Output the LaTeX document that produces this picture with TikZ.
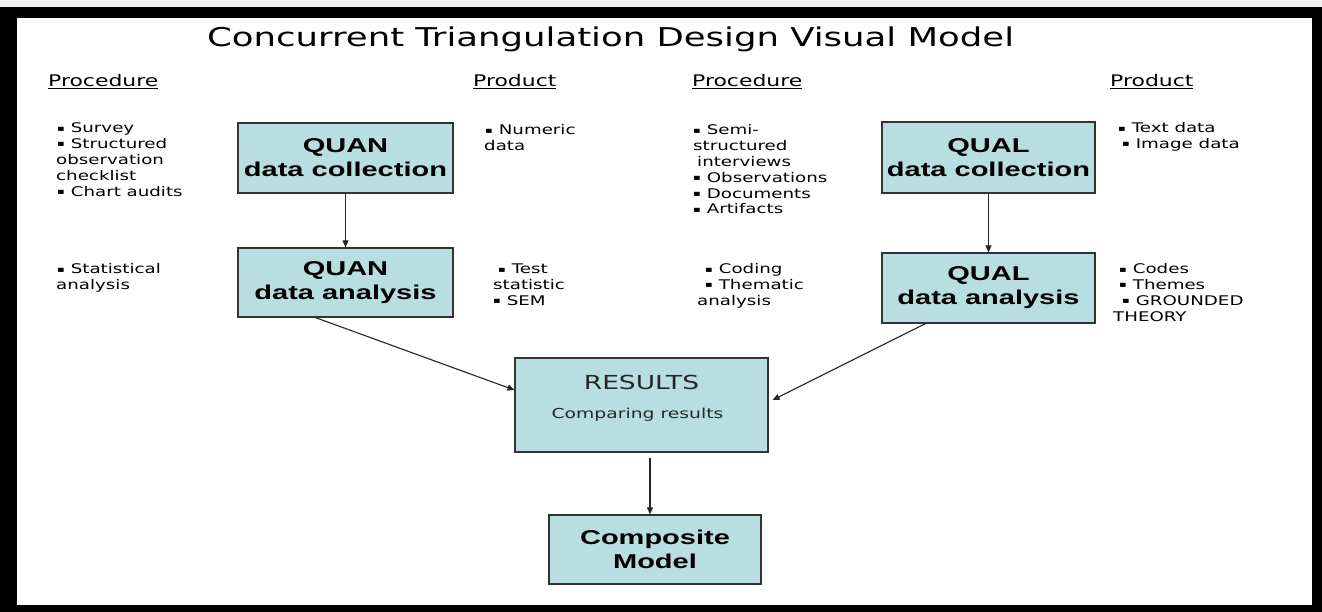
\documentclass[tikz,border=0pt]{standalone}
\usepackage{fontspec}
\usepackage{graphicx}
\usetikzlibrary{arrows.meta,calc}
\newfontfamily\rfont[FakeStretch=1.37]{DejaVu Sans}
\newfontfamily\bfont[FakeStretch=1.45]{Liberation Sans}
\definecolor{boxc}{HTML}{B9DEE2}
\newcommand\ltab[1]{\begin{tabular}[t]{@{}l@{}}#1\end{tabular}}
\newcommand\bul{\raisebox{1.8pt}{\scalebox{0.62}{▪}}\hspace{6pt}}
\begin{document}
\begin{tikzpicture}[x=1pt,y=-1pt,
  box/.style={draw=black!80, line width=1.2pt, fill=boxc, inner sep=0pt, align=center,
    font=\bfont\bfseries\fontsize{20}{24}\selectfont},
  small/.style={anchor=base west, inner sep=0pt, font=\rfont\fontsize{13.3}{15.8}\selectfont},
  head/.style={anchor=base west, inner sep=0pt, font=\rfont\fontsize{16}{19}\selectfont},
  restext/.style={anchor=base, inner sep=0pt, text=black!85},
  arr/.style={line width=1.1pt, draw=black!85, -{Triangle[length=7pt,width=6pt]}}]
\useasboundingbox (0,0) rectangle (1322,612);
\fill[gray!12] (0,0) rectangle (1322,612);
\fill[black] (0,7) rectangle (1322,612);
\fill[white] (17,18) rectangle (1312,605);

% title
\node[anchor=base west, inner sep=0pt, font=\rfont\fontsize{25.9}{30}\selectfont] (title) at (207,47) {Concurrent Triangulation Design Visual Model};

% headers
\node[head] (h1) at (48,87) {\underline{Procedure}};
\node[head] (h2) at (473,87) {\underline{Product}};
\node[head] (h3) at (692,87) {\underline{Procedure}};
\node[head] (h4) at (1110,87) {\underline{Product}};

% boxes
\node[box, minimum width=215pt, minimum height=70pt] (qc) at (345.5,158) {QUAN\\data collection};
\node[box, minimum width=215pt, minimum height=69pt] (qa) at (345.5,282.5) {QUAN\\data analysis};
\node[box, minimum width=213pt, minimum height=71pt] (lc) at (988.5,157.5) {QUAL\\data collection};
\node[box, minimum width=213pt, minimum height=70pt] (la) at (988.5,288) {QUAL\\data analysis};
\node[box, minimum width=253pt, minimum height=94pt] (res) at (641.5,405) {};
\node[restext, font=\rfont\fontsize{19.3}{23}\selectfont] (resT) at ([yshift=16pt]res.center) {RESULTS};
\node[restext, font=\rfont\fontsize{13.7}{16}\selectfont] (resC) at ([shift={(-4pt,-13pt)}]res.center) {Comparing results};
\node[box, minimum width=212pt, minimum height=69pt] (comp) at (655,549.5) {Composite\\Model};

% side texts
\node[small] (t1) at (56,133) {\ltab{\hspace{1pt}\bul Survey\\\hspace{1pt}\bul Structured\\observation\\checklist\\\hspace{1pt}\bul Chart audits}};
\node[small] (t2) at (56,274) {\ltab{\hspace{1pt}\bul Statistical\\analysis}};
\node[small] (t3) at (484,135) {\ltab{\hspace{1pt}\bul Numeric\\data}};
\node[small] (t4) at (493,274) {\ltab{\hspace{5pt}\bul Test\\statistic\\\bul SEM}};
\node[small] (t5) at (693,135) {\ltab{\bul Semi-\\structured\\\hspace{4pt}interviews\\\bul Observations\\\bul Documents\\\bul Artifacts}};
\node[small] (t6) at (697,274) {\ltab{\hspace{8pt}\bul Coding\\\hspace{8pt}\bul Thematic\\analysis}};
\node[small] (t7) at (1118,133) {\ltab{\bul Text data\\\hspace{4pt}\bul Image data}};
\node[small] (t8) at (1113,274) {\ltab{\hspace{6pt}\bul Codes\\\hspace{6pt}\bul Themes\\\hspace{9pt}\bul GROUNDED\\THEORY}};

% connectors
\draw[arr] (qc) -- (qa);
\draw[arr] (lc) -- (la);
\draw[arr] ([xshift=-30pt]qa.south) -- ([yshift=15pt]res.west);
\draw[arr] ([xshift=-63pt]la.south) -- ([shift={(4pt,5pt)}]res.east);
\draw[arr, shorten <=5pt] ([xshift=8.5pt]res.south) -- ([xshift=-5pt]comp.north);
\end{tikzpicture}
\end{document}
